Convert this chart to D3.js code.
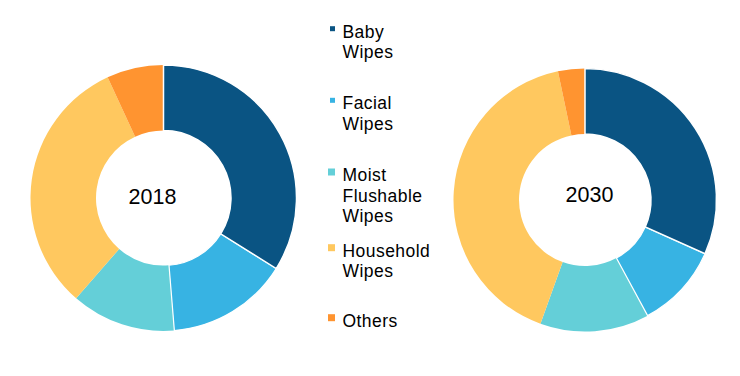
<!DOCTYPE html>
<html>
<head>
<meta charset="utf-8">
<script src="https://cdn.jsdelivr.net/npm/d3@7/dist/d3.min.js"></script>
<style>
  html, body { margin: 0; padding: 0; background: #fff; }
  #chart { width: 740px; height: 376px; }
  text { font-family: "Liberation Sans", Arial, sans-serif; fill: #000; }
</style>
</head>
<body>
<div id="chart"></div>
<script>
// Data
const categories = ['Baby Wipes', 'Facial Wipes', 'Moist Flushable Wipes', 'Household Wipes', 'Others'];
const legendLines = [['Baby', 'Wipes'], ['Facial', 'Wipes'], ['Moist', 'Flushable', 'Wipes'], ['Household', 'Wipes'], ['Others']];
const years = ['2018', '2030'];
const share2018 = [33.9, 14.8, 12.7, 31.7, 6.9];
const share2030 = [31.7, 10.4, 13.4, 41.2, 3.3];

// Styles
const colors = ['#0a5483', '#37b3e3', '#64cfd8', '#ffc85f', '#ff9430'];
const borderWidth = [1.5, 1.2, 0, 0, 0];

const width = 740, height = 376;

const svg = d3.select('#chart')
    .append('svg')
    .attr('width', width)
    .attr('height', height);

const color = d3.scaleOrdinal().domain(categories).range(colors);

// one donut per year
const donuts = [
    { year: years[0], values: share2018, cx: 163.5, cy: 198, outer: 133, inner: 67.5, labelDx: -11, labelY: 204 },
    { year: years[1], values: share2030, cx: 585, cy: 200, outer: 131.5, inner: 66, labelDx: 4.5, labelY: 202 }
];

const pie = d3.pie().sort(null).value(d => d.value);

donuts.forEach(cfg => {
    const data = categories.map((c, i) => ({ name: c, value: cfg.values[i], idx: i }));
    const arc = d3.arc().innerRadius(cfg.inner).outerRadius(cfg.outer);

    const g = svg.append('g')
        .attr('transform', `translate(${cfg.cx},${cfg.cy})`);

    // draw bordered slices last so their white edges stay visible
    const arcs = pie(data).sort((a, b) => borderWidth[a.data.idx] - borderWidth[b.data.idx]);

    g.selectAll('path')
        .data(arcs)
        .enter()
        .append('path')
        .attr('d', arc)
        .style('fill', d => color(d.data.name))
        .style('stroke', d => borderWidth[d.data.idx] > 0 ? '#fff' : 'none')
        .style('stroke-width', d => borderWidth[d.data.idx])
        .style('stroke-linejoin', 'miter');

    svg.append('text')
        .attr('x', cfg.cx + cfg.labelDx)
        .attr('y', cfg.labelY)
        .attr('text-anchor', 'middle')
        .style('font-size', '21.5px')
        .text(cfg.year);
});

// Legend
const legendBaselines = [37.7, 109.3, 181, 256.7, 326.7];
const swatchSize = [5, 5, 7, 7, 7];
const lineHeight = 20.7;
const textX = 342.5;

const legend = svg.append('g');

categories.forEach((c, i) => {
    const base = legendBaselines[i];
    const s = swatchSize[i];
    legend.append('rect')
        .attr('x', 335 - s)
        .attr('y', base - 9 - s / 2)
        .attr('width', s)
        .attr('height', s)
        .style('fill', color(c));

    const t = legend.append('text')
        .attr('x', textX)
        .attr('y', base)
        .style('font-size', '17.5px')
        .style('letter-spacing', '0.45px');

    legendLines[i].forEach((line, j) => {
        t.append('tspan')
            .attr('x', textX)
            .attr('dy', j === 0 ? 0 : lineHeight)
            .text(line);
    });
});
</script>
</body>
</html>
